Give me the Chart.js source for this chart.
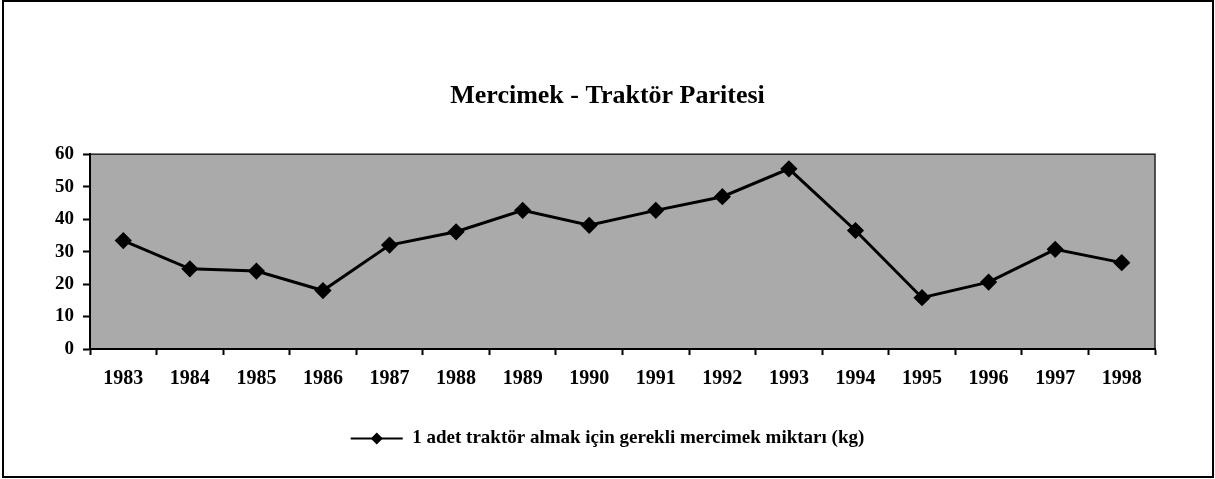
<!DOCTYPE html>
<html>
<head>
<meta charset="utf-8">
<script src="https://cdn.jsdelivr.net/npm/chart.js@4/dist/chart.umd.min.js"></script>
<style>
  html, body { margin: 0; padding: 0; background: #fff; }
  #wrap { width: 1215px; height: 479px; }
</style>
</head>
<body>
<div id="wrap"><canvas id="c" width="1215" height="479"></canvas></div>
<script>
const years = ["1983", "1984", "1985", "1986", "1987", "1988", "1989", "1990",
  "1991", "1992", "1993", "1994", "1995", "1996", "1997", "1998"];
const mercimekKg = [33.4, 24.7, 24.0, 18.0, 32.0, 36.1, 42.7, 38.1,
  42.7, 46.9, 55.5, 36.5, 15.8, 20.6, 30.7, 26.6];
const yTicks = [0, 10, 20, 30, 40, 50, 60];

const serif = "'Liberation Serif', 'Times New Roman', serif";

// white page, outer frame, grey plot area
const framePlugin = {
  id: "frame",
  beforeDraw(chart) {
    const ctx = chart.ctx;
    const a = chart.chartArea;
    ctx.save();
    ctx.fillStyle = "#fff";
    ctx.fillRect(0, 0, chart.width, chart.height);
    ctx.strokeStyle = "#000";
    ctx.lineWidth = 2;
    ctx.strokeRect(3, 1, chart.width - 5, chart.height - 3);
    ctx.fillStyle = "#aaaaaa";
    ctx.fillRect(a.left, a.top, a.right - a.left, a.bottom - a.top);
    ctx.strokeStyle = "#222";
    ctx.lineWidth = 1.5;
    ctx.strokeRect(a.left, a.top, a.right - a.left, a.bottom - a.top);
    ctx.restore();
  },
  afterDraw(chart) {
    // diamond on top of the legend line
    const box = chart.legend && chart.legend.legendHitBoxes[0];
    if (!box) return;
    const ctx = chart.ctx;
    const bw = chart.legend.options.labels.boxWidth;
    const cx = box.left + bw / 2;
    const cy = box.top + box.height / 2;
    const r = 6;
    ctx.save();
    ctx.fillStyle = "#000";
    ctx.beginPath();
    ctx.moveTo(cx, cy - r);
    ctx.lineTo(cx + r, cy);
    ctx.lineTo(cx, cy + r);
    ctx.lineTo(cx - r, cy);
    ctx.closePath();
    ctx.fill();
    ctx.restore();
  }
};

new Chart(document.getElementById("c"), {
  type: "line",
  data: {
    labels: years,
    datasets: [{
      label: "1 adet traktör almak için gerekli mercimek miktarı (kg)",
      data: mercimekKg,
      borderColor: "#000",
      backgroundColor: "#000",
      borderWidth: 3,
      pointStyle: "rectRot",
      pointRadius: 6.5,
      pointBackgroundColor: "#000",
      pointBorderColor: "#000",
      tension: 0
    }]
  },
  options: {
    responsive: false,
    animation: false,
    layout: { padding: { left: 0, right: 0, top: 0, bottom: 21 } },
    plugins: {
      title: {
        display: true,
        text: "Mercimek - Traktör Paritesi",
        color: "#000",
        font: { family: serif, size: 26, weight: "bold" },
        padding: { top: 81, bottom: 42 }
      },
      legend: {
        position: "bottom",
        labels: {
          color: "#000",
          font: { family: serif, size: 19, weight: "bold" },
          boxWidth: 52,
          boxHeight: 2,
          padding: 10,
          generateLabels(chart) {
            return chart.data.datasets.map((ds, i) => ({
              text: ds.label,
              fillStyle: "#000",
              strokeStyle: "#000",
              lineWidth: 0,
              fontColor: "#000",
              hidden: false,
              datasetIndex: i
            }));
          }
        }
      },
      tooltip: { enabled: false }
    },
    scales: {
      x: {
        offset: true,
        grid: {
          offset: true,
          drawOnChartArea: false,
          drawTicks: true,
          tickLength: 6,
          tickColor: "#000",
          tickWidth: 2
        },
        border: { color: "#000", width: 2 },
        ticks: {
          color: "#000",
          padding: 12,
          maxRotation: 0,
          font: { family: serif, size: 20, weight: "bold" }
        },
        afterFit(scale) { scale.height = 70; }
      },
      y: {
        min: 0,
        max: 60,
        afterBuildTicks(scale) { scale.ticks = yTicks.map(v => ({ value: v })); },
        grid: {
          drawOnChartArea: false,
          drawTicks: true,
          tickLength: 7,
          tickColor: "#000",
          tickWidth: 2
        },
        border: { color: "#000", width: 2 },
        ticks: {
          color: "#000",
          padding: 9,
          font: { family: serif, size: 19, weight: "bold" }
        },
        afterFit(scale) { scale.width = 90; }
      },
      // empty right-hand axis, only reserves the margin right of the plot
      yRight: {
        axis: "y",
        position: "right",
        min: 0,
        max: 60,
        grid: { display: false },
        border: { display: false },
        ticks: { display: false },
        afterFit(scale) { scale.width = 60; }
      }
    }
  },
  plugins: [framePlugin]
});
</script>
</body>
</html>
